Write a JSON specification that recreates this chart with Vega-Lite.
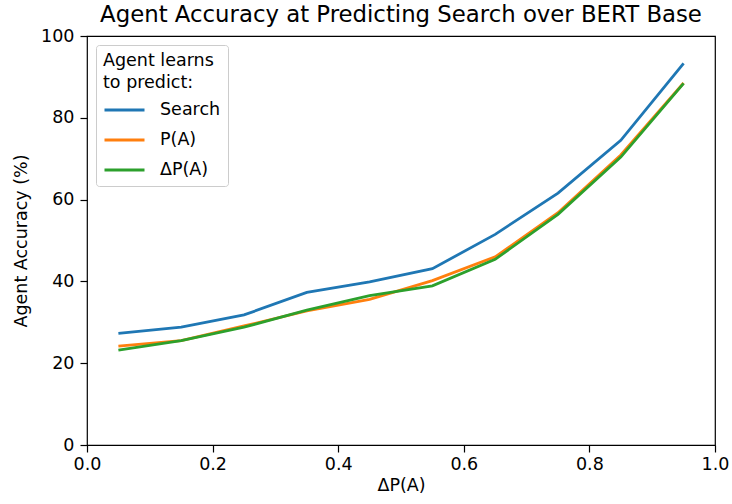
{
  "$schema": "https://vega.github.io/schema/vega-lite/v6.json",
  "autosize": {"type": "none"},
  "width": 628,
  "height": 409,
  "padding": {"left": 87, "top": 36, "right": 17, "bottom": 59},
  "background": "white",
  "title": {
    "text": "Agent Accuracy at Predicting Search over BERT Base",
    "font": "DejaVu Sans",
    "fontSize": 22.8,
    "fontWeight": "normal",
    "color": "black",
    "anchor": "middle",
    "offset": 6,
    "dy": 6
  },
  "config": {
    "view": {"stroke": "black", "strokeWidth": 1.2},
    "axis": {
      "grid": false,
      "domain": false,
      "tickColor": "black",
      "tickSize": 7,
      "tickWidth": 1.2,
      "labelFont": "DejaVu Sans",
      "labelFontSize": 17.5,
      "labelColor": "black",
      "titleFont": "DejaVu Sans",
      "titleFontSize": 17.5,
      "titleFontWeight": "normal",
      "titleColor": "black",
      "labelFlush": false
    }
  },
  "data": {
    "values": [
      {"x": 0.05, "acc": 27.3, "series": "Search"},
      {"x": 0.15, "acc": 28.8, "series": "Search"},
      {"x": 0.25, "acc": 31.8, "series": "Search"},
      {"x": 0.35, "acc": 37.3, "series": "Search"},
      {"x": 0.45, "acc": 39.9, "series": "Search"},
      {"x": 0.55, "acc": 43.1, "series": "Search"},
      {"x": 0.65, "acc": 51.5, "series": "Search"},
      {"x": 0.75, "acc": 61.6, "series": "Search"},
      {"x": 0.85, "acc": 74.5, "series": "Search"},
      {"x": 0.95, "acc": 93.3, "series": "Search"},
      {"x": 0.05, "acc": 24.2, "series": "P(A)"},
      {"x": 0.15, "acc": 25.5, "series": "P(A)"},
      {"x": 0.25, "acc": 29.1, "series": "P(A)"},
      {"x": 0.35, "acc": 32.8, "series": "P(A)"},
      {"x": 0.45, "acc": 35.6, "series": "P(A)"},
      {"x": 0.55, "acc": 40.2, "series": "P(A)"},
      {"x": 0.65, "acc": 46.0, "series": "P(A)"},
      {"x": 0.75, "acc": 56.8, "series": "P(A)"},
      {"x": 0.85, "acc": 70.9, "series": "P(A)"},
      {"x": 0.95, "acc": 88.5, "series": "P(A)"},
      {"x": 0.05, "acc": 23.2, "series": "ΔP(A)"},
      {"x": 0.15, "acc": 25.5, "series": "ΔP(A)"},
      {"x": 0.25, "acc": 28.8, "series": "ΔP(A)"},
      {"x": 0.35, "acc": 33.0, "series": "ΔP(A)"},
      {"x": 0.45, "acc": 36.5, "series": "ΔP(A)"},
      {"x": 0.55, "acc": 38.9, "series": "ΔP(A)"},
      {"x": 0.65, "acc": 45.4, "series": "ΔP(A)"},
      {"x": 0.75, "acc": 56.4, "series": "ΔP(A)"},
      {"x": 0.85, "acc": 70.4, "series": "ΔP(A)"},
      {"x": 0.95, "acc": 88.4, "series": "ΔP(A)"}
    ]
  },
  "mark": {"type": "line", "strokeWidth": 2.8},
  "encoding": {
    "x": {
      "field": "x",
      "type": "quantitative",
      "title": "ΔP(A)",
      "scale": {"domain": [0, 1], "nice": false, "zero": false},
      "axis": {"values": [0, 0.2, 0.4, 0.6, 0.8, 1.0], "format": ".1f", "labelPadding": 3, "titlePadding": 4}
    },
    "y": {
      "field": "acc",
      "type": "quantitative",
      "title": "Agent Accuracy (%)",
      "scale": {"domain": [0, 100], "nice": false},
      "axis": {"values": [0, 20, 40, 60, 80, 100], "labelPadding": 6, "titlePadding": 10}
    },
    "color": {
      "field": "series",
      "type": "nominal",
      "scale": {"domain": ["Search", "P(A)", "ΔP(A)"], "range": ["#1f77b4", "#ff7f0e", "#2ca02c"]},
      "legend": {
        "title": ["Agent learns", "to predict:"],
        "orient": "top-left",
        "offset": 9,
        "titleFont": "DejaVu Sans",
        "titleFontSize": 17.5,
        "titleFontWeight": "normal",
        "titleColor": "black",
        "titleLineHeight": 22,
        "titlePadding": -3,
        "labelFont": "DejaVu Sans",
        "labelFontSize": 17.5,
        "labelColor": "black",
        "labelOffset": 14,
        "symbolType": "stroke",
        "symbolSize": 1600,
        "symbolStrokeWidth": 2.8,
        "rowPadding": -14,
        "padding": 7,
        "strokeColor": "#cccccc",
        "fillColor": "white",
        "cornerRadius": 3
      }
    }
  }
}
